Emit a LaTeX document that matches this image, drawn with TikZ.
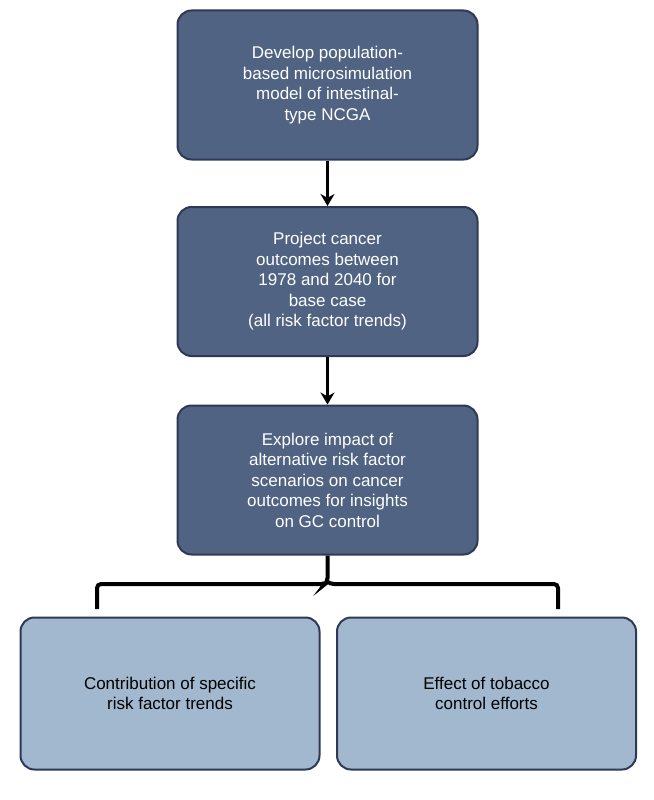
\documentclass[tikz,border=0pt]{standalone}
\usepackage{fontspec}
\setmainfont{Liberation Sans}
\usetikzlibrary{arrows.meta}
\definecolor{dk}{HTML}{506382}
\definecolor{dkb}{HTML}{2E3A55}
\definecolor{lt}{HTML}{A2B8CE}
\begin{document}
\begin{tikzpicture}[x=1pt,y=-1pt,
  box/.style={draw=dkb,line width=2pt,rounded corners=14pt,fill=dk,text=white,minimum width=300pt,minimum height=149pt,align=center,font=\fontsize{17}{20.5}\selectfont},
  lbox/.style={box,fill=lt,text=black,minimum width=299pt,minimum height=152pt},
  arr/.style={line width=3.5pt,-{Stealth[length=12pt,width=14pt]}}]
\useasboundingbox (0,0) rectangle (653,800);
\node[box] (a) at (327.5,85) {Develop population-\\based microsimulation\\model of intestinal-\\type NCGA};
\node[box] (b) at (327.5,281.5) {Project cancer\\outcomes between\\1978 and 2040 for\\base case\\(all risk factor trends)};
\node[box] (c) at (327.5,480) {Explore impact of\\alternative risk factor\\scenarios on cancer\\outcomes for insights\\on GC control};
\node[lbox] (d) at (170,693.5) {Contribution of specific\\risk factor trends};
\node[lbox] (e) at (486.5,693.5) {Effect of tobacco\\control efforts};
\draw[arr] (a.south) -- (b.north);
\draw[arr] (b.south) -- (c.north);
\coordinate (m) at (327.5,582);
\coordinate (l) at (97,609);
\coordinate (r) at (558,609);
\draw[line width=4pt,rounded corners=4pt] (l) -- (97,584) -- (325,584) -- (m) -- (c.south);
\draw[line width=4pt,rounded corners=4pt] (r) -- (558,584) -- (330,584) -- (m);
\end{tikzpicture}
\end{document}
